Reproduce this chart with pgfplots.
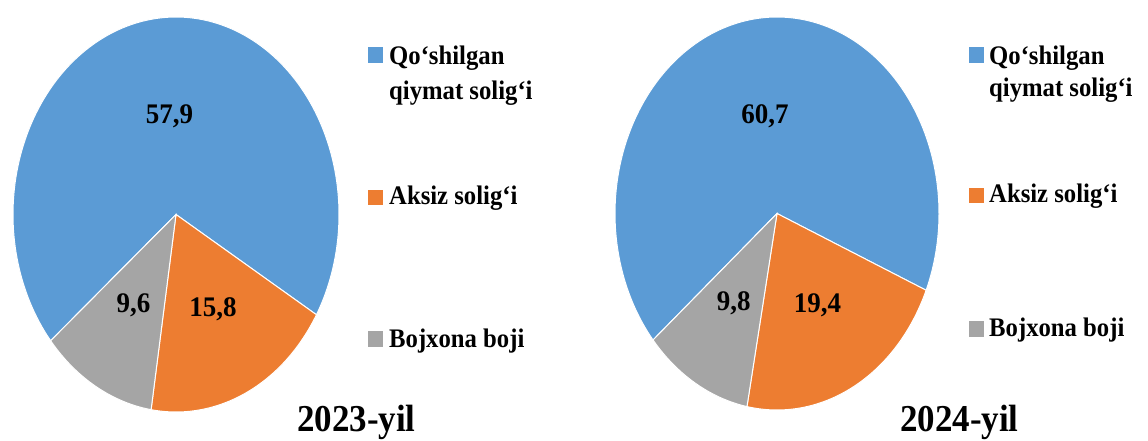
\documentclass[border=0pt]{standalone}
\usepackage{pgfplots}
\pgfplotsset{compat=1.18}
\usepackage{fontspec}
\setmainfont{Liberation Serif}
\definecolor{cblue}{RGB}{91,155,213}
\definecolor{corange}{RGB}{237,125,49}
\definecolor{cgray}{RGB}{165,165,165}

% data: 2023 and 2024 (Qo'shilgan qiymat solig'i, Aksiz solig'i, Bojxona boji)
\def\QA{57.9}\def\AAv{15.8}\def\BA{9.6}
\def\QB{60.7}\def\AB{19.4}\def\BB{9.8}

\newcommand\lbl[1]{\fontsize{27}{30}\selectfont\bfseries #1}

% #1 cx, #2 cy, #3 rx, #4 ry, #5 start angle, #6 Q, #7 A, #8 B
\newcommand\pie[8]{%
  \pgfmathsetmacro\Tot{#6+#7+#8}%
  \pgfmathsetmacro\oA{#5-(#7/\Tot)*360}%
  \pgfmathsetmacro\gA{\oA-(#8/\Tot)*360}%
  \pgfmathsetmacro\bB{#5+(#6/\Tot)*360}%
  \pgfmathsetmacro\mQ{(#5+\bB)/2}%
  \pgfmathsetmacro\mA{(#5+\oA)/2}%
  \pgfmathsetmacro\mB{(\oA+\gA)/2}%
  \pgfmathsetmacro\xQ{#1+0.5*#3*cos(\mQ)}\pgfmathsetmacro\yQ{#2+0.5*#4*sin(\mQ)}%
  \pgfmathsetmacro\xA{#1+0.53*#3*cos(\mA)}\pgfmathsetmacro\yA{#2+0.53*#4*sin(\mA)}%
  \pgfmathsetmacro\xB{#1+0.53*#3*cos(\mB)}\pgfmathsetmacro\yB{#2+0.53*#4*sin(\mB)}%
  \edef\temp{%
    \noexpand\addplot[fill=cblue,draw=white,line width=1pt,domain=#5:\bB,samples=150,variable=\noexpand\t]
      ({#1+#3*cos(\noexpand\t)},{#2+#4*sin(\noexpand\t)}) -- (#1,#2) -- cycle;
    \noexpand\addplot[fill=corange,draw=white,line width=1pt,domain=\oA:#5,samples=60,variable=\noexpand\t]
      ({#1+#3*cos(\noexpand\t)},{#2+#4*sin(\noexpand\t)}) -- (#1,#2) -- cycle;
    \noexpand\addplot[fill=cgray,draw=white,line width=1pt,domain=\gA:\oA,samples=40,variable=\noexpand\t]
      ({#1+#3*cos(\noexpand\t)},{#2+#4*sin(\noexpand\t)}) -- (#1,#2) -- cycle;
    \noexpand\node[yscale=1.05] at (axis cs:\xQ,\yQ) {\noexpand\lbl{\noexpand\pgfmathprintnumber[use comma,fixed,precision=1,fixed zerofill]{#6}}};
    \noexpand\node[yscale=1.05] at (axis cs:\xA,\yA) {\noexpand\lbl{\noexpand\pgfmathprintnumber[use comma,fixed,precision=1,fixed zerofill]{#7}}};
    \noexpand\node[yscale=1.05] at (axis cs:\xB,\yB) {\noexpand\lbl{\noexpand\pgfmathprintnumber[use comma,fixed,precision=1,fixed zerofill]{#8}}};
  }%
  \temp
}

\begin{document}
\begin{tikzpicture}
\begin{axis}[
  width=1148pt, height=441pt, scale only axis,
  xmin=0, xmax=1148, ymin=0, ymax=441,
  hide axis, clip=false,
  /pgf/number format/assume math mode=true,
]
\pie{176}{226.5}{163}{197.5}{-30.5}{\QA}{\AAv}{\BA}
\pie{777}{227.5}{162}{196.5}{-23}{\QB}{\AB}{\BB}
\end{axis}

% legends
\begin{scope}[every node/.style={anchor=base west, inner sep=0pt, xscale=0.95, yscale=1.03, font=\fontsize{26}{30}\selectfont\bfseries}]
  \fill[cblue] (368pt,378pt) rectangle (383pt,394pt);
  \node at (389pt,376pt) {Qo‘shilgan};
  \node at (389pt,341pt) {qiymat solig‘i};
  \fill[corange] (368pt,236pt) rectangle (383pt,251pt);
  \node at (389pt,236pt) {Aksiz solig‘i};
  \fill[cgray] (368pt,94pt) rectangle (383pt,110pt);
  \node at (389pt,93pt) {Bojxona boji};

  \fill[cblue] (969pt,378pt) rectangle (984pt,394pt);
  \node at (989pt,376pt) {Qo‘shilgan};
  \node at (989pt,344pt) {qiymat solig‘i};
  \fill[corange] (969pt,238pt) rectangle (984pt,253pt);
  \node at (989pt,238pt) {Aksiz solig‘i};
  \fill[cgray] (969pt,104pt) rectangle (984pt,120pt);
  \node at (989pt,104pt) {Bojxona boji};
\end{scope}
% titles
\node[anchor=base west, inner sep=0pt, xscale=0.92, font=\fontsize{38}{42}\selectfont\bfseries] at (297pt,9pt) {2023-yil};
\node[anchor=base west, inner sep=0pt, xscale=0.92, font=\fontsize{38}{42}\selectfont\bfseries] at (900pt,9pt) {2024-yil};

\pgfresetboundingbox
\useasboundingbox (0pt,0pt) rectangle (1148pt,441pt);
\end{tikzpicture}
\end{document}
